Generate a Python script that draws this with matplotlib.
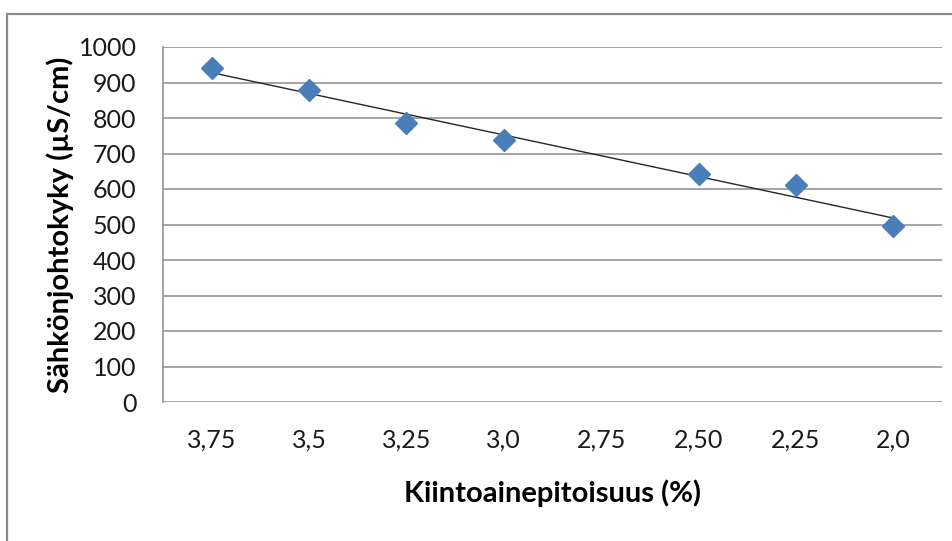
from matplotlib import pyplot as plt
from matplotlib.patches import Rectangle
import numpy as np

# Kategoriat (kiintoainepitoisuus %) ja mitatut sähkönjohtokyvyt
categories = ["3,75", "3,5", "3,25", "3,0", "2,75", "2,50", "2,25", "2,0"]
conductivity = [940, 878, 785, 738, None, 642, 610, 497]
y_ticks = [0, 100, 200, 300, 400, 500, 600, 700, 800, 900, 1000]

plt.rcParams['font.family'] = ['Lato', 'DejaVu Sans']

fig = plt.figure(figsize=(9.53, 5.41), dpi=100)
ax = fig.add_axes([163 / 953, 1 - 402 / 541, 779 / 953, 355 / 541])

# Ulkoreunus (kuva on rajattu oikealta ja alhaalta)
fig.patches.append(Rectangle((7 / 953, -0.1), 1.2, (541 - 14) / 541 + 0.1,
                             transform=fig.transFigure, fill=False,
                             edgecolor="#8a8a8a", linewidth=1.6))

pos = np.arange(len(categories))
xs = np.array([p for p, v in zip(pos, conductivity) if v is not None])
ys = np.array([v for v in conductivity if v is not None])

for y in y_ticks:
    ax.axhline(y, color="#8c8c8c", linewidth=1.1, zorder=1)

# Lineaarinen trendiviiva kuten Excelissä (x = kategorian järjestysnumero)
k, c = np.polyfit(xs, ys, 1)
tx = np.array([pos[0], pos[-1]])
ax.plot(tx, k * tx + c, color="#262626", linewidth=1.0, zorder=3)

ax.plot(xs, ys, linestyle="none", marker="D", markersize=11,
        color="#4a7ebb", markeredgecolor="#4a7ebb", zorder=4)

ax.set_xlim(-0.5, len(categories) - 0.5)
ax.set_ylim(0, 1000)
ax.set_xticks(pos)
ax.set_xticklabels(categories)
ax.set_yticks(y_ticks)
ax.tick_params(axis="both", length=0, labelsize=18, colors="#1a1a1a")
ax.tick_params(axis="y", pad=19)
ax.tick_params(axis="x", pad=19)

for s in ["top", "right", "bottom"]:
    ax.spines[s].set_visible(False)
ax.spines["left"].set_color("#8c8c8c")
ax.spines["left"].set_linewidth(1.1)

ax.set_xlabel("Kiintoainepitoisuus (%)", fontsize=21, fontweight="bold")
ax.set_ylabel("Sähkönjohtokyky (µS/cm)", fontsize=21, fontweight="bold")
ax.xaxis.set_label_coords(0.5, -0.256)
ax.xaxis.label.set_va("center")
ax.yaxis.set_label_coords(-0.132, 0.5)
ax.yaxis.label.set_va("center")

fig.savefig("out.png", dpi=100)
